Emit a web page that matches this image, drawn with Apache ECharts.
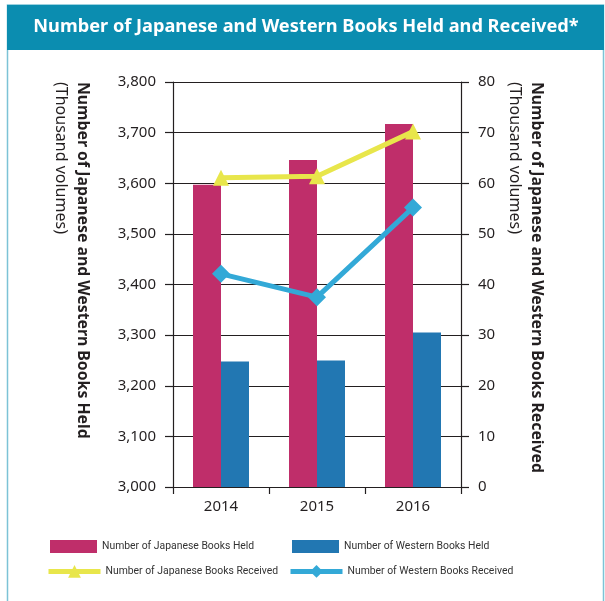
<!DOCTYPE html>
<html>
<head>
<meta charset="utf-8">
<script src="https://cdn.jsdelivr.net/npm/echarts@6/dist/echarts.min.js"></script>
<style>
  html, body { margin: 0; padding: 0; background: #fff; }
  #chart { width: 605px; height: 601px; }
</style>
</head>
<body>
<div id="chart"></div>
<script>
// data
const years = ['2014', '2015', '2016'];
const japaneseHeld = [3597, 3646, 3717];
const westernHeld = [3248, 3250, 3305];
const japaneseReceived = [61.1, 61.4, 70.2];
const westernReceived = [42.1, 37.5, 55.2];
const leftTicks = [3000, 3800, 100];
const rightTicks = [0, 80, 10];

const title = 'Number of Japanese and Western Books Held and Received*';
const leftName = 'Number of Japanese and Western Books Held';
const rightName = 'Number of Japanese and Western Books Received';
const unitName = '(Thousand volumes)';

const teal = '#0b8db0';
const ink = '#231f20';
const font = '"Noto Sans", sans-serif';

const chart = echarts.init(document.getElementById('chart'), null, { renderer: 'canvas' });

const legendText = { fontFamily: 'Roboto, sans-serif', fontSize: 10.4, color: '#333' };

function sideTitle(x, text, bold) {
  return {
    type: 'text',
    x: x,
    y: 82,
    rotation: -Math.PI / 2,
    style: {
      text: text,
      fill: ink,
      font: bold ? 'bold 15.8px ' + font : '16px ' + font,
      align: 'left',
      verticalAlign: 'middle'
    }
  };
}

const option = {
  backgroundColor: '#fff',
  animation: false,
  graphic: [
    { type: 'rect', shape: { x: 7.5, y: 5, width: 596, height: 620 }, style: { fill: 'none', stroke: '#7cc3d6', lineWidth: 1.5 } },
    { type: 'rect', shape: { x: 7, y: 5, width: 597, height: 45 }, style: { fill: teal } },
    { type: 'text', x: 306, y: 27, style: { text: title, fill: '#fff', font: 'bold 18.2px ' + font, align: 'center', verticalAlign: 'middle' } },
    sideTitle(83, leftName, true),
    sideTitle(61, unitName, false),
    sideTitle(537, rightName, true),
    sideTitle(515, unitName, false)
  ],
  grid: { left: 173, right: 144, top: 82, bottom: 114, containLabel: false },
  legend: [
    { data: ['Number of Japanese Books Held'], icon: 'rect', padding: 0, left: 50, top: 540, itemWidth: 47, itemHeight: 13, textStyle: legendText },
    { data: ['Number of Western Books Held'], icon: 'rect', padding: 0, left: 292, top: 540, itemWidth: 47, itemHeight: 13, textStyle: legendText },
    { data: ['Number of Japanese Books Received'], padding: 0, left: 46, top: 565, itemWidth: 52, itemHeight: 16, lineStyle: { width: 5 }, textStyle: legendText },
    { data: ['Number of Western Books Received'], padding: 0, left: 288, top: 565, itemWidth: 52, itemHeight: 16, lineStyle: { width: 5 }, textStyle: legendText }
  ],
  xAxis: {
    type: 'category',
    data: years,
    boundaryGap: true,
    axisLine: { lineStyle: { color: ink, width: 1.2 } },
    axisTick: { show: true, length: 7, lineStyle: { color: ink, width: 1.2 } },
    axisLabel: { color: ink, fontFamily: font, fontSize: 15, margin: 12 }
  },
  yAxis: [
    {
      type: 'value',
      min: leftTicks[0],
      max: leftTicks[1],
      interval: leftTicks[2],
      axisLine: { show: true, lineStyle: { color: ink, width: 1.2 } },
      axisTick: { show: true, length: 8, lineStyle: { color: ink, width: 1.2 } },
      splitLine: { show: true, lineStyle: { color: ink, width: 1.2 } },
      axisLabel: {
        color: ink, fontFamily: font, fontSize: 15, margin: 17,
        formatter: v => v.toLocaleString('en-US')
      }
    },
    {
      type: 'value',
      min: rightTicks[0],
      max: rightTicks[1],
      interval: rightTicks[2],
      position: 'right',
      axisLine: { show: true, lineStyle: { color: ink, width: 1.2 } },
      axisTick: { show: true, length: 8, lineStyle: { color: ink, width: 1.2 } },
      splitLine: { show: false },
      axisLabel: { color: ink, fontFamily: font, fontSize: 15, margin: 17 }
    }
  ],
  series: [
    {
      name: 'Number of Japanese Books Held',
      type: 'bar',
      data: japaneseHeld,
      barWidth: 28,
      barGap: '0%',
      itemStyle: { color: '#bf2e6a' }
    },
    {
      name: 'Number of Western Books Held',
      type: 'bar',
      data: westernHeld,
      barWidth: 28,
      itemStyle: { color: '#2277b2' }
    },
    {
      name: 'Number of Japanese Books Received',
      type: 'line',
      yAxisIndex: 1,
      data: japaneseReceived,
      symbol: 'triangle',
      symbolSize: 16,
      lineStyle: { color: '#e8e64b', width: 5 },
      itemStyle: { color: '#e8e64b' },
      z: 5
    },
    {
      name: 'Number of Western Books Received',
      type: 'line',
      yAxisIndex: 1,
      data: westernReceived,
      symbol: 'diamond',
      symbolSize: 18,
      lineStyle: { color: '#33a9d7', width: 5 },
      itemStyle: { color: '#33a9d7' },
      z: 5
    }
  ]
};

chart.setOption(option);
</script>
</body>
</html>
